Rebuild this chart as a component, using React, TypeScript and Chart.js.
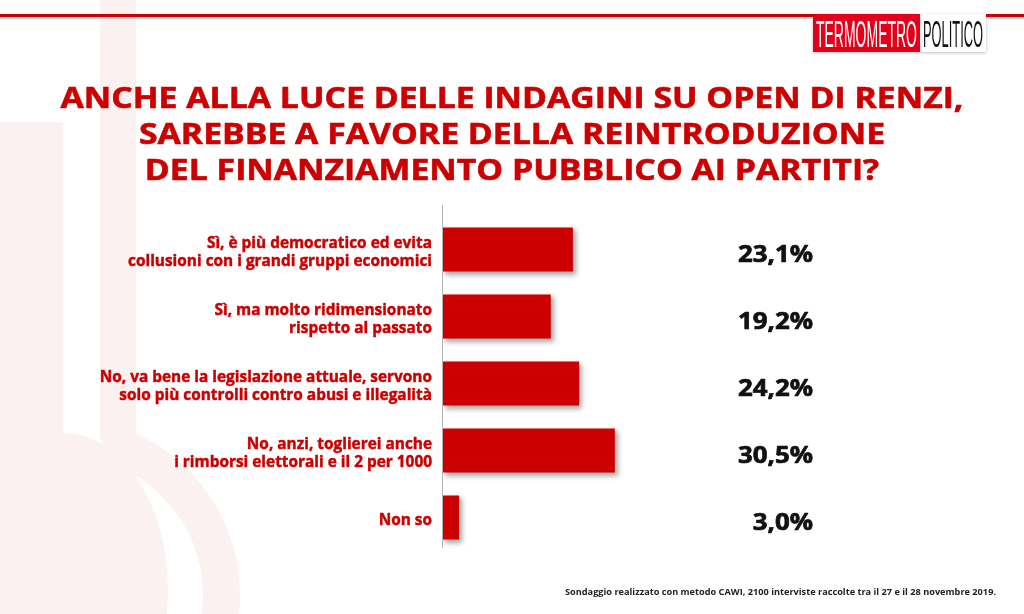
import React, { useEffect, useRef } from "react";
import { Chart, registerables } from "chart.js";

Chart.register(...registerables);

const titleLines = [
  "ANCHE ALLA LUCE DELLE INDAGINI SU OPEN DI RENZI,",
  "SAREBBE A FAVORE DELLA REINTRODUZIONE",
  "DEL FINANZIAMENTO PUBBLICO AI PARTITI?",
];
const categories: string[][] = [
  ["Sì, è più democratico ed evita", "collusioni con i grandi gruppi economici"],
  ["Sì, ma molto ridimensionato", "rispetto al passato"],
  ["No, va bene la legislazione attuale, servono", "solo più controlli contro abusi e illegalità"],
  ["No, anzi, toglierei anche", "i rimborsi elettorali e il 2 per 1000"],
  ["Non so"],
];
const values = [23.1, 19.2, 24.2, 30.5, 3.0];
const footnote =
  "Sondaggio realizzato con metodo CAWI, 2100 interviste raccolte tra il 27 e il 28 novembre 2019.";
const logoLeft = "TERMOMETRO";
const logoRight = "POLITICO";

const RED = "#cc0000";
const FONT = "'Open Sans', 'Noto Sans', 'DejaVu Sans'";
const PALE = "#fcf1f1";

const fmt = (v: number) => v.toFixed(1).replace(".", ",") + "%";

// returns horizontal scale so that `ref` at `size` spans `target` px
function scaleFor(ctx: CanvasRenderingContext2D, ref: string, size: number, target: number) {
  ctx.font = `bold ${size}px ${FONT}`;
  return target / ctx.measureText(ref).width;
}

function drawScaled(
  ctx: CanvasRenderingContext2D,
  text: string,
  x: number,
  y: number,
  sx: number,
  align: CanvasTextAlign,
  stroke = 0
) {
  ctx.save();
  ctx.translate(x, y);
  ctx.scale(sx, 1);
  ctx.textAlign = align;
  ctx.textBaseline = "alphabetic";
  ctx.fillText(text, 0, 0);
  if (stroke > 0) {
    ctx.strokeStyle = ctx.fillStyle as string;
    ctx.lineWidth = stroke;
    ctx.lineJoin = "round";
    ctx.strokeText(text, 0, 0);
  }
  ctx.restore();
}

const decorPlugin = {
  id: "decor",
  beforeDraw(chart: any) {
    const ctx: CanvasRenderingContext2D = chart.ctx;
    ctx.save();
    ctx.fillStyle = "#ffffff";
    ctx.fillRect(0, 0, chart.width, chart.height);
    // faint watermark
    ctx.fillStyle = PALE;
    ctx.beginPath();
    ctx.rect(100, 0, 36, 440);
    ctx.fill();
    ctx.beginPath();
    ctx.arc(63, 595, 177, -Math.PI * 0.42, Math.PI * 0.1, false);
    ctx.arc(63, 595, 140, Math.PI * 0.1, -Math.PI * 0.42, true);
    ctx.closePath();
    ctx.fill();
    ctx.beginPath();
    ctx.moveTo(0, 122);
    ctx.lineTo(63, 122);
    ctx.lineTo(63, 433);
    ctx.ellipse(63, 590, 105, 157, 0, -Math.PI / 2, 0.16, false);
    ctx.lineTo(0, 614);
    ctx.closePath();
    ctx.fill();
    // top red line
    ctx.fillStyle = "rgba(0,0,0,0.15)";
    ctx.fillRect(0, 17, chart.width, 2);
    ctx.fillStyle = RED;
    ctx.fillRect(0, 14, chart.width, 3);
    ctx.restore();
  },
  beforeDatasetDraw(chart: any) {
    const ctx = chart.ctx;
    ctx.save();
    ctx.shadowColor = "rgba(0,0,0,0.35)";
    ctx.shadowOffsetX = 3;
    ctx.shadowOffsetY = 3;
    ctx.shadowBlur = 5;
  },
  afterDatasetDraw(chart: any) {
    chart.ctx.restore();
  },
  afterDraw(chart: any) {
    const ctx: CanvasRenderingContext2D = chart.ctx;
    const area = chart.chartArea;
    const yScale = chart.scales.y;
    ctx.save();

    // axis line
    ctx.strokeStyle = "#b3b3b3";
    ctx.lineWidth = 1;
    ctx.beginPath();
    ctx.moveTo(Math.round(area.left) + 0.5, area.top - 11);
    ctx.lineTo(Math.round(area.left) + 0.5, area.bottom - 3);
    ctx.stroke();

    // title
    const tSize = 29;
    const tsx = scaleFor(ctx, titleLines[0], tSize, 903);
    ctx.fillStyle = RED;
    const tBase = [108, 144, 180];
    titleLines.forEach((l, i) => drawScaled(ctx, l, 512, tBase[i], tsx, "center", 0.6));

    // category labels
    const lSize = 16;
    const lsx = scaleFor(ctx, categories[0][1], lSize, 304);
    categories.forEach((lines, i) => {
      const c = yScale.getPixelForValue(i);
      const n = lines.length;
      lines.forEach((line, j) => {
        const y = c + 7.5 + (j - (n - 1) / 2) * 18;
        drawScaled(ctx, line, area.left - 10, y, lsx, "right", 0.45);
      });
    });

    // values
    const vSize = 24;
    const vsx = scaleFor(ctx, "24,2%", vSize, 75);
    ctx.fillStyle = "#111111";
    values.forEach((v, i) => {
      const c = yScale.getPixelForValue(i);
      drawScaled(ctx, fmt(v), area.right + 31, c + 12, vsx, "right", 0.7);
    });

    // footnote
    const fSize = 9.5;
    const fsx = scaleFor(ctx, footnote, fSize, 431);
    ctx.fillStyle = "#222222";
    drawScaled(ctx, footnote, 996, 595, fsx, "right");

    // logo
    ctx.shadowColor = "rgba(0,0,0,0.25)";
    ctx.shadowBlur = 3;
    ctx.shadowOffsetY = 1;
    ctx.fillStyle = "#ffffff";
    ctx.fillRect(920, 14, 66, 38);
    ctx.fillStyle = "#e3001b";
    ctx.fillRect(813, 14, 107, 38);
    ctx.shadowColor = "transparent";
    ctx.font = `36px 'Liberation Sans Narrow', 'Liberation Sans'`;
    const drawSquashed = (text: string, x: number, w: number, color: string) => {
      const mw = ctx.measureText(text).width;
      ctx.fillStyle = color;
      drawScaled(ctx, text, x, 47, w / mw, "left");
    };
    drawSquashed(logoLeft, 816, 101, "#ffffff");
    drawSquashed(logoRight, 923, 60, "#111111");

    ctx.restore();
  },
};

export default function App() {
  const ref = useRef<HTMLCanvasElement>(null);
  useEffect(() => {
    if (!ref.current) return;
    const chart = new Chart(ref.current, {
      type: "bar",
      data: {
        labels: categories.map((c) => c.join(" ")),
        datasets: [
          {
            data: values,
            backgroundColor: RED,
            borderWidth: 0,
            categoryPercentage: 1,
            barPercentage: 0.657,
          },
        ],
      },
      options: {
        indexAxis: "y",
        responsive: false,
        animation: false,
        layout: { padding: { left: 442, right: 242, top: 216, bottom: 63 } },
        scales: {
          x: { display: false, min: 0, max: 60 },
          y: { display: false },
        },
        plugins: {
          legend: { display: false },
          title: { display: false },
          tooltip: { enabled: false },
        },
      },
      plugins: [decorPlugin],
    });
    return () => chart.destroy();
  }, []);
  return (
    <div style={{ position: "absolute", left: 0, top: 0, width: 1024, height: 614 }}>
      <canvas ref={ref} width={1024} height={614} />
    </div>
  );
}
